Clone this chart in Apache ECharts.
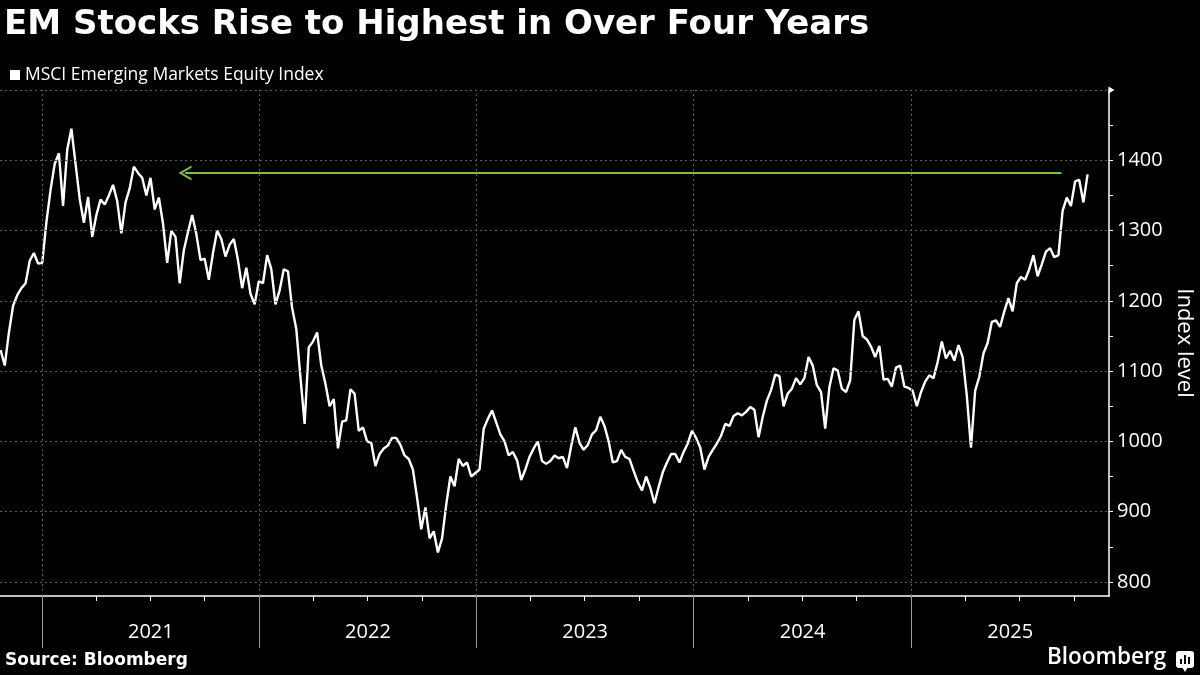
<!DOCTYPE html>
<html>
<head>
<meta charset="utf-8">
<script src="https://cdn.jsdelivr.net/npm/echarts@6/dist/echarts.min.js"></script>
<style>
html,body{margin:0;padding:0;background:#000;}
#chart{width:1200px;height:675px;}
</style>
</head>
<body>
<div id="chart"></div>
<script>
// ---- data ----
const seriesName = 'MSCI Emerging Markets Equity Index';
const startDate = '2020-10-23'; // first weekly observation
const weeklyValues = [
1130,1108,1155,1193,1208,1218,1225,1257,1268,1253,
1254,1312,1358,1395,1410,1335,1415,1445,1395,1345,
1311,1348,1291,1322,1344,1337,1350,1365,1342,1296,
1340,1360,1391,1382,1375,1350,1375,1330,1347,1310,
1254,1300,1291,1225,1272,1298,1322,1295,1258,1260,
1230,1268,1300,1288,1263,1280,1288,1258,1218,1247,
1210,1195,1228,1225,1265,1245,1195,1215,1245,1242,
1190,1160,1091,1025,1134,1142,1155,1108,1082,1050,
1060,990,1028,1030,1074,1068,1015,1020,1000,998,
965,982,990,994,1005,1005,995,980,975,960,
920,875,906,862,872,842,862,910,950,936,
975,965,970,950,955,960,1018,1032,1044,1027,
1010,1000,980,985,973,945,960,978,990,1000,
972,968,972,980,976,978,962,993,1020,998,
988,995,1010,1016,1035,1022,1000,970,972,988,
978,975,958,942,930,950,934,912,935,956,
970,982,982,970,985,997,1015,1005,991,960,
978,988,997,1008,1025,1022,1036,1040,1037,1042,
1049,1045,1006,1035,1058,1073,1095,1093,1050,1068,
1075,1090,1081,1090,1120,1108,1080,1070,1018,1077,
1104,1101,1075,1070,1087,1173,1185,1150,1145,1135,
1120,1136,1088,1089,1078,1105,1108,1078,1076,1072,
1050,1070,1085,1094,1090,1113,1142,1118,1129,1115,
1137,1120,1065,991,1072,1092,1125,1140,1170,1172,
1163,1185,1204,1185,1225,1234,1230,1245,1265,1235,
1252,1270,1275,1262,1265,1328,1347,1335,1370,1372,
1340,1380
];
const axisMin = '2020-10-22';
const axisMax = '2025-11-29';
const yearStarts = ['2021-01-01','2022-01-01','2023-01-01','2024-01-01','2025-01-01'];
const yearLabels = ['2021','2022','2023','2024','2025'];
const quarterTicks = [
'2021-04-01','2021-07-01','2021-10-01',
'2022-04-01','2022-07-01','2022-10-01',
'2023-04-01','2023-07-01','2023-10-01',
'2024-04-01','2024-07-01','2024-10-01',
'2025-04-01','2025-07-01','2025-10-01'
];
const yTickLabels = [800,900,1000,1100,1200,1300,1400];
const yMinorTicks = [800,850,900,950,1000,1050,1100,1150,1200,1250,1300,1350,1400,1450];
const yGridValues = [800,900,1000,1100,1200,1300,1400,1500];
const arrowLevel = 1382;
const arrowFrom = '2021-08-29';
const arrowTo = '2025-09-10';

// ---- build ----
const DAY = 86400000;
const toT = d => Date.parse(d + 'T00:00:00Z');
const t0 = toT(startDate);
const lineData = weeklyValues.map((v, i) => [t0 + i * 7 * DAY, v]);
const minT = toT(axisMin);
const maxT = toT(axisMax);
const yearStartT = yearStarts.map(toT);
const labelT = yearStartT.map((s, i) => {
  const next = i + 1 < yearStartT.length ? yearStartT[i + 1] : Date.UTC(new Date(s).getUTCFullYear() + 1, 0, 1);
  return (s + Math.min(next, maxT)) / 2;
});
const quarterT = quarterTicks.map(toT);

const gridColor = '#5c5c5c';
const chevron = 'path://M0,10 L5,0 L10,10 L8.5,10 L5,2.9 L1.5,10 Z';

const chart = echarts.init(document.getElementById('chart'));
chart.setOption({
  backgroundColor: '#000',
  animation: false,
  title: {
    text: 'EM Stocks Rise to Highest in Over Four Years',
    left: -1, top: 3,
    textStyle: {color: '#fff', fontSize: 34, fontWeight: 'bold', fontFamily: 'DejaVu Sans'}
  },
  legend: {
    data: [seriesName],
    left: 5, top: 61,
    icon: 'rect', itemWidth: 10, itemHeight: 10, itemGap: 4,
    textStyle: {color: '#fff', fontSize: 17.5, fontFamily: 'Open Sans'},
    selectedMode: false
  },
  grid: {left: 0, right: 91, top: 90, bottom: 79, containLabel: false, outerBoundsMode: 'none'},
  xAxis: [{
    type: 'value', min: minT, max: maxT, position: 'bottom',
    axisLine: {show: true, lineStyle: {color: '#fff', width: 1.5}},
    axisTick: {show: true, customValues: quarterT, length: 5, lineStyle: {color: '#fff', width: 1}},
    axisLabel: {
      show: true, customValues: labelT, margin: 26,
      color: '#fff', fontSize: 20, fontFamily: 'Open Sans',
      formatter: function (v) {
        const y = new Date(v).getUTCFullYear();
        const idx = yearStartT.findIndex(s => new Date(s).getUTCFullYear() === y);
        return idx >= 0 ? yearLabels[idx] : '';
      }
    },
    splitLine: {show: false}
  }, {
    type: 'value', min: minT, max: maxT, position: 'bottom',
    axisLine: {show: false},
    axisTick: {show: true, customValues: yearStartT, length: 52, lineStyle: {color: '#9a9a9a', width: 1}},
    axisLabel: {show: false},
    splitLine: {show: false}
  }],
  yAxis: [{
    type: 'value', min: 780, max: 1500, position: 'right',
    name: 'Index level', nameLocation: 'middle', nameRotate: -90, nameGap: 62,
    nameTextStyle: {color: '#fff', fontSize: 22, fontFamily: 'Open Sans'},
    axisLine: {show: true, lineStyle: {color: '#fff', width: 1.5},
      symbol: ['none', 'path://M5,0 L11,3.5 L5,7 Z M0,0 L0.01,0'], symbolSize: [22, 7]},
    axisTick: {show: true, customValues: yMinorTicks, length: 4, lineStyle: {color: '#fff', width: 1}},
    axisLabel: {show: true, customValues: yTickLabels, margin: 8, color: '#fff', fontSize: 20, fontFamily: 'Open Sans',
      formatter: v => String(v)},
    splitLine: {show: false}
  }],
  series: [{
    name: 'grid',
    type: 'line',
    data: lineData,
    xAxisIndex: 0,
    silent: true,
    showSymbol: false,
    lineStyle: {opacity: 0},
    z: 1,
    markLine: {
      silent: true, symbol: ['none', 'none'], animation: false,
      label: {show: false},
      lineStyle: {color: gridColor, type: [2, 3], width: 1},
      emphasis: {disabled: true},
      data: yGridValues.map(v => ({yAxis: v})).concat(yearStartT.map(t => ({xAxis: t})))
    }
  }, {
    name: seriesName,
    type: 'line',
    data: lineData,
    xAxisIndex: 0,
    showSymbol: false,
    symbol: 'none',
    lineStyle: {color: '#fff', width: 2.4},
    itemStyle: {color: '#fff'},
    z: 3,
    markLine: {
      silent: true, animation: false,
      symbol: [chevron, 'none'], symbolSize: [15, 13],
      label: {show: false},
      lineStyle: {color: '#7cc242', type: 'solid', width: 2},
      emphasis: {disabled: true},
      data: [[{coord: [toT(arrowFrom), arrowLevel]}, {coord: [toT(arrowTo), arrowLevel]}]]
    }
  }],
  graphic: [
    {type: 'text', left: 5, top: 652, style: {text: 'Source: Bloomberg', fill: '#fff', font: 'bold 17px "DejaVu Sans"'}},
    {type: 'text', left: 1047, top: 646, style: {text: 'Bloomberg', fill: '#fff', font: '600 22.5px "Open Sans"'}},
    {type: 'group', left: 1176, top: 651, children: [
      {type: 'rect', shape: {x: 0, y: 0, width: 18, height: 17, r: 3}, style: {fill: '#fff'}},
      {type: 'polygon', shape: {points: [[6, 16], [12, 16], [9, 21]]}, style: {fill: '#fff'}},
      {type: 'rect', shape: {x: 4, y: 8, width: 2, height: 5}, style: {fill: '#000'}},
      {type: 'rect', shape: {x: 8, y: 4, width: 2, height: 9}, style: {fill: '#000'}},
      {type: 'rect', shape: {x: 12, y: 6, width: 2, height: 7}, style: {fill: '#000'}}
    ]}
  ]
});
</script>
</body>
</html>
